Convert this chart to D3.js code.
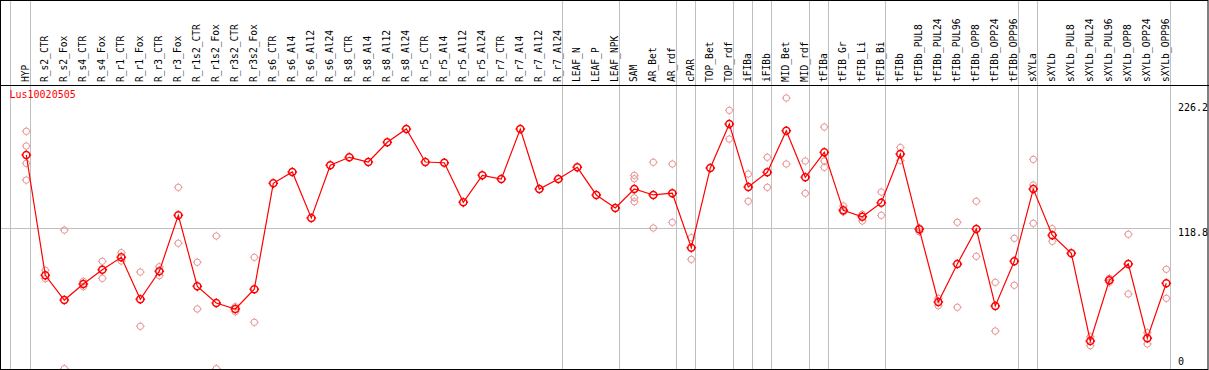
<!DOCTYPE html>
<html>
<head>
<meta charset="utf-8">
<script src="https://cdn.jsdelivr.net/npm/d3@7"></script>
<style>
  body { margin: 0; background: #fff; }
  svg text { font-family: "DejaVu Sans Mono", monospace; }
</style>
</head>
<body>
<svg id="chart" width="1209" height="370"></svg>
<script>
// sample names, left to right
const categories = ["HYP","R_s2_CTR","R_s2_Fox","R_s4_CTR","R_s4_Fox","R_r1_CTR","R_r1_Fox","R_r3_CTR","R_r3_Fox",
  "R_r1s2_CTR","R_r1s2_Fox","R_r3s2_CTR","R_r3s2_Fox","R_s6_CTR","R_s6_Al4","R_s6_Al12","R_s6_Al24",
  "R_s8_CTR","R_s8_Al4","R_s8_Al12","R_s8_Al24","R_r5_CTR","R_r5_Al4","R_r5_Al12","R_r5_Al24",
  "R_r7_CTR","R_r7_Al4","R_r7_Al12","R_r7_Al24","LEAF_N","LEAF_P","LEAF_NPK","SAM","AR_Bet","AR_rdf",
  "cPAR","TOP_Bet","TOP_rdf","iFIBa","iFIBb","MID_Bet","MID_rdf","tFIBa","tFIB_Gr","tFIB_Li","tFIB_Bi",
  "tFIBb","tFIBb_PUL8","tFIBb_PUL24","tFIBb_PUL96","tFIBb_OPP8","tFIBb_OPP24","tFIBb_OPP96",
  "sXYLa","sXYLb","sXYLb_PUL8","sXYLb_PUL24","sXYLb_PUL96","sXYLb_OPP8","sXYLb_OPP24","sXYLb_OPP96"];

// mean expression per sample
const meanValues = [179.1,79.7,59.3,72.5,84.3,94.6,59.9,83.0,129.3,
  70.6,56.8,51.9,68.2,155.7,165.1,127.1,170.6,
  177.2,173.3,189.6,200.6,173.3,172.7,140.0,162.3,
  159.3,200.6,151.0,159.3,168.9,146.1,135.3,151.0,146.1,147.5,
  102.5,168.4,204.7,152.7,164.8,199.2,160.7,181.3,133.4,128.1,139.7,
  179.9,117.7,57.7,89.1,118.0,54.4,91.3,
  151.0,112.8,97.9,25.4,75.6,89.1,27.7,73.1];

// individual replicates per sample
const replicates = [
  [198.7,186.5,172.2,158.4],[83.9,76.9],[117.1,2.6],[74.8,70.3],[91.3,77.2],[98.4,91.5],[82.4,37.6],[86.8,79.4],[152.4,106.2],
  [90.5,51.9],[112.2,2.6],[53.8,49.6],[94.6,40.9],[],[],[],[],
  [],[],[],[],[],[],[],[],
  [],[],[],[],[],[],[],[162.3,159.5,143.8,140.5],[173.1,118.8],[171.7,123.5],
  [110.8,92.9],[],[216.0,192.3],[163.4,140.9],[177.2,152.4],[226.2,171.7],[174.1,147.5],[202.2,174.1,168.9],[137.0,132.0],[130.1,124.6],[148.5,129.3],
  [185.3,174.6],[119.0,115.7],[60.7,54.6],[123.5,53.3],[140.9,95.4],[73.9,33.7],[110.3,71.5],
  [175.5,154.3,122.7],[118.2,107.8],[],[29.0,21.6],[77.2,73.9],[113.6,64.3],[32.3,23.0],[84.7,60.7]];

// a separator line is drawn after each of these samples
const groupEnds = ["HYP","R_r7_Al24","LEAF_NPK","AR_rdf","cPAR","TOP_rdf","iFIBa","iFIBb","MID_rdf","tFIBa","tFIB_Bi","tFIBb_OPP96","sXYLa","sXYLb_OPP96"];

const yTicks = [0, 118.8, 226.2];
const geneName = "Lus10020505";

const W = 1209, H = 370;
const headerY = 85.5, plotBottom = 369;

const svg = d3.select("#chart");

const x = d3.scaleBand()
    .domain(categories)
    .range([11.5, 11.5 + 19 * categories.length]);
const px = d => x(d) + 14.8;

const y = d3.scaleLinear()
    .domain([0, d3.max(yTicks)])
    .range([371.8, 98]);

// little circle with four tick marks
function marker(r, t) {
    return "M" + (-r) + ",0a" + r + "," + r + " 0 1,0 " + (2 * r) + ",0a" + r + "," + r + " 0 1,0 " + (-2 * r) + ",0" +
        "M0," + (-r) + "V" + (-r - t) + "M0," + r + "V" + (r + t) +
        "M" + (-r) + ",0H" + (-r - t) + "M" + r + ",0H" + (r + t);
}

svg.append("defs").append("clipPath").attr("id", "plotclip")
    .append("rect").attr("x", 1).attr("y", headerY).attr("width", W - 2).attr("height", plotBottom - headerY);

// first separator before HYP
svg.append("line")
    .attr("x1", x.range()[0] - 1).attr("x2", x.range()[0] - 1)
    .attr("y1", 0).attr("y2", H)
    .attr("stroke", "#c0c0c0");

svg.selectAll("line.sep")
    .data(groupEnds)
    .enter().append("line")
    .attr("class", "sep")
    .attr("x1", d => x(d) + x.bandwidth())
    .attr("x2", d => x(d) + x.bandwidth())
    .attr("y1", 0).attr("y2", H)
    .attr("stroke", "#c0c0c0");

// horizontal reference line at middle tick
svg.append("line")
    .attr("x1", 0).attr("x2", x.range()[1] - 0.5)
    .attr("y1", Math.round(y(yTicks[1])) + 0.5).attr("y2", Math.round(y(yTicks[1])) + 0.5)
    .attr("stroke", "#c0c0c0");

// rotated sample labels
svg.selectAll("text.lab")
    .data(categories)
    .enter().append("text")
    .attr("class", "lab")
    .attr("transform", d => "translate(" + (x(d) + 17.2) + ",82) rotate(-90)")
    .attr("font-size", "9.6px")
    .attr("fill", "#000")
    .text(d => d);

// frame and header divider
svg.append("rect")
    .attr("x", 0.5).attr("y", 0.5).attr("width", W - 1.5).attr("height", plotBottom)
    .attr("fill", "none").attr("stroke", "#000");
svg.append("line")
    .attr("x1", 0).attr("x2", W).attr("y1", headerY).attr("y2", headerY)
    .attr("stroke", "#000");

svg.append("text")
    .attr("x", 9.5).attr("y", 97.5)
    .attr("font-size", "10px")
    .attr("fill", "#ff0000")
    .text(geneName);

// y tick labels on the right
svg.selectAll("text.tick")
    .data(yTicks)
    .enter().append("text")
    .attr("class", "tick")
    .attr("x", 1178)
    .attr("y", d => Math.min(Math.max(y(d) + 8, headerY + 25), plotBottom - 4))
    .attr("font-size", "10px")
    .attr("fill", "#000")
    .text(d => d);

const plot = svg.append("g").attr("clip-path", "url(#plotclip)");

const repPoints = [];
categories.forEach((c, i) => replicates[i].forEach(v => repPoints.push({c: c, v: v})));

plot.selectAll("path.rep")
    .data(repPoints)
    .enter().append("path")
    .attr("class", "rep")
    .attr("transform", d => "translate(" + px(d.c) + "," + y(d.v) + ")")
    .attr("d", marker(3.2, 1.2))
    .attr("fill", "none")
    .attr("stroke", "#e89494")
    .attr("stroke-width", 1);

const line = d3.line()
    .x((d, i) => px(categories[i]))
    .y(d => y(d));

plot.append("path")
    .datum(meanValues)
    .attr("d", line)
    .attr("fill", "none")
    .attr("stroke", "#ff0000")
    .attr("stroke-width", 1.2);

plot.selectAll("path.mean")
    .data(meanValues)
    .enter().append("path")
    .attr("class", "mean")
    .attr("transform", (d, i) => "translate(" + px(categories[i]) + "," + y(d) + ")")
    .attr("d", marker(3.5, 1.3))
    .attr("fill", "none")
    .attr("stroke", "#ff0000")
    .attr("stroke-width", 1.5);
</script>
</body>
</html>
